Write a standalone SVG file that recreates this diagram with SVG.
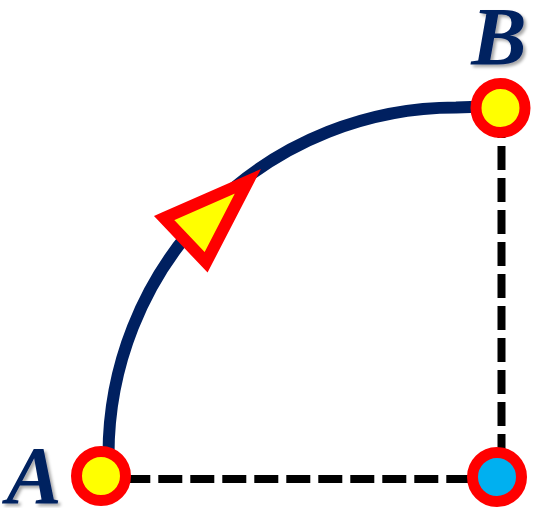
<svg xmlns="http://www.w3.org/2000/svg" width="534" height="508" viewBox="0 0 534 508">
<defs>
<filter id="shadow" x="-20%" y="-20%" width="150%" height="150%">
<feDropShadow dx="2.5" dy="2.5" stdDeviation="1.5" flood-color="#000000" flood-opacity="0.35"/>
</filter>
</defs>
<style>
.label{font-family:"Liberation Serif","Times New Roman",serif;font-weight:bold;font-style:italic;font-size:83px;fill:#002060;filter:url(#shadow)}
.ring{stroke:#FF0000;stroke-width:11}
.dash{stroke:#000000;stroke-width:8;stroke-dasharray:24 8;fill:none}
</style>
<g id="connectors">
<path id="arc" d="M108.5,476 L108.5,455 A347.5,347.5 0 0 1 456,107.5 L500,106" fill="none" stroke="#002060" stroke-width="12"/>
<line id="dash-h" class="dash" x1="126.3" y1="479" x2="470" y2="479"/>
<line id="dash-v" class="dash" x1="501.5" y1="114" x2="501.5" y2="450"/>
<polygon id="arrowhead" points="164.2,218.1 247.9,181.3 206.1,262.3" fill="#FFFF00" stroke="#FF0000" stroke-width="12" stroke-linejoin="miter" stroke-miterlimit="10"/>
</g>
<g id="node-A">
<circle class="ring" cx="101" cy="476" r="24.5" fill="#FFFF00"/>
<text class="label" x="34" y="503" text-anchor="middle">A</text>
</g>
<g id="node-B">
<circle class="ring" cx="500.5" cy="108" r="24.5" fill="#FFFF00"/>
<text class="label" x="499" y="64" text-anchor="middle">B</text>
</g>
<g id="node-C">
<circle class="ring" cx="497" cy="477" r="24.5" fill="#00B0F0"/>
</g>
</svg>
